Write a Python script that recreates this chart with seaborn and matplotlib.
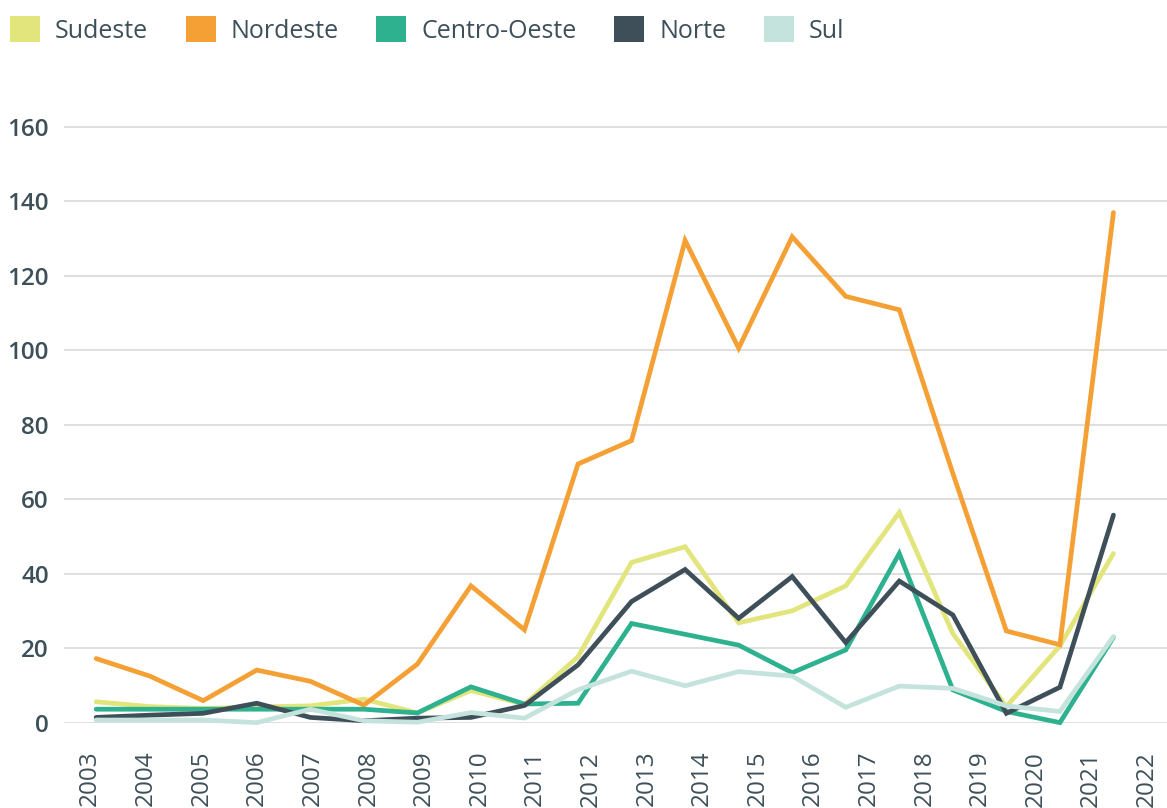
import numpy as np
import pandas as pd
import seaborn as sns
import matplotlib.pyplot as plt
from matplotlib.patches import Patch

years = [str(y) for y in range(2003, 2023)]

sudeste = [5.7, 4.4, 3.9, 4.3, 4.6, 6.4, 2.7, 8.7, 5.0, 17.8,
           43.1, 47.3, 26.9, 30.1, 36.8, 56.5, 24.0, 4.4, 20.7, 45.5]
nordeste = [17.3, 12.6, 6.0, 14.2, 11.2, 4.8, 15.8, 36.8, 25.0, 69.5,
            75.8, 129.5, 100.6, 130.5, 114.5, 110.9, 67.0, 24.7, 21.0, 137.0]
centro_oeste = [3.7, 3.7, 3.7, 3.7, 3.7, 3.7, 2.7, 9.7, 5.1, 5.3,
                26.7, 23.8, 20.9, 13.5, 19.6, 45.5, 8.9, 3.1, 0.1, 23.0]
norte = [1.5, 2.1, 2.6, 5.3, 1.5, 0.6, 1.3, 1.5, 4.7, 15.6,
         32.6, 41.2, 28.1, 39.3, 21.6, 38.1, 29.0, 2.6, 9.6, 55.8]
sul = [0.8, 0.8, 0.8, 0.1, 3.7, 0.6, 0.2, 2.8, 1.3, 8.9,
       13.9, 10.0, 13.8, 12.6, 4.2, 9.9, 9.3, 4.6, 3.1, 23.2]

regions = ["Sudeste", "Nordeste", "Centro-Oeste", "Norte", "Sul"]
colors = ["#E2E47C", "#F5A035", "#2EB18F", "#3F4F59", "#C5E3DD"]
text_color = "#3D4F58"

df = pd.DataFrame({
    "idx": list(range(len(years))) * 5,
    "valor": sudeste + nordeste + centro_oeste + norte + sul,
    "regiao": np.repeat(regions, len(years)),
})

sns.set_theme(style="white")
plt.rcParams["font.family"] = ["Open Sans", "DejaVu Sans"]

fig = plt.figure(figsize=(11.67, 8.08), dpi=100)
ax = fig.add_axes([64 / 1167, 1 - 723 / 808, 1 - 64 / 1167, (723 - 100) / 808])

sns.lineplot(data=df, x="idx", y="valor", hue="regiao", hue_order=regions,
             palette=colors, linewidth=3.4, legend=False, ax=ax)
for line in ax.lines:
    line.set_clip_on(False)
    line.set_solid_joinstyle("miter")

ax.set_xlim(-0.6, 20.0)
ax.set_ylim(0, 167.2)
ax.set_yticks(range(0, 161, 20))
ax.yaxis.grid(True, color="#D9D9D9", linewidth=1.2)
ax.xaxis.grid(False)
for s in ax.spines.values():
    s.set_visible(False)

# year labels sit on a slightly wider step than the data points
tick_pos = np.arange(len(years)) * 1.0385 - 0.11
ax.set_xticks(tick_pos)
ax.set_xticklabels(years, rotation=90, fontsize=17.5, color=text_color,
                   ha="center", va="top")
ax.tick_params(axis="x", length=0, pad=20)
ax.tick_params(axis="y", length=0, pad=11, labelsize=17.5, labelcolor=text_color)
for lab in ax.get_yticklabels():
    lab.set_fontweight("semibold")
ax.set_xlabel("")
ax.set_ylabel("")

handles = [Patch(facecolor=c, edgecolor="none") for c in colors]
fig.legend(handles, regions, loc="center left",
           bbox_to_anchor=(10 / 1167, 1 - 30 / 808), ncol=5, frameon=False,
           fontsize=18, labelcolor=text_color, handlelength=1.2,
           handleheight=1.2, handletextpad=0.6, columnspacing=1.5,
           borderpad=0, borderaxespad=0)

fig.savefig("out.png", dpi=100)
